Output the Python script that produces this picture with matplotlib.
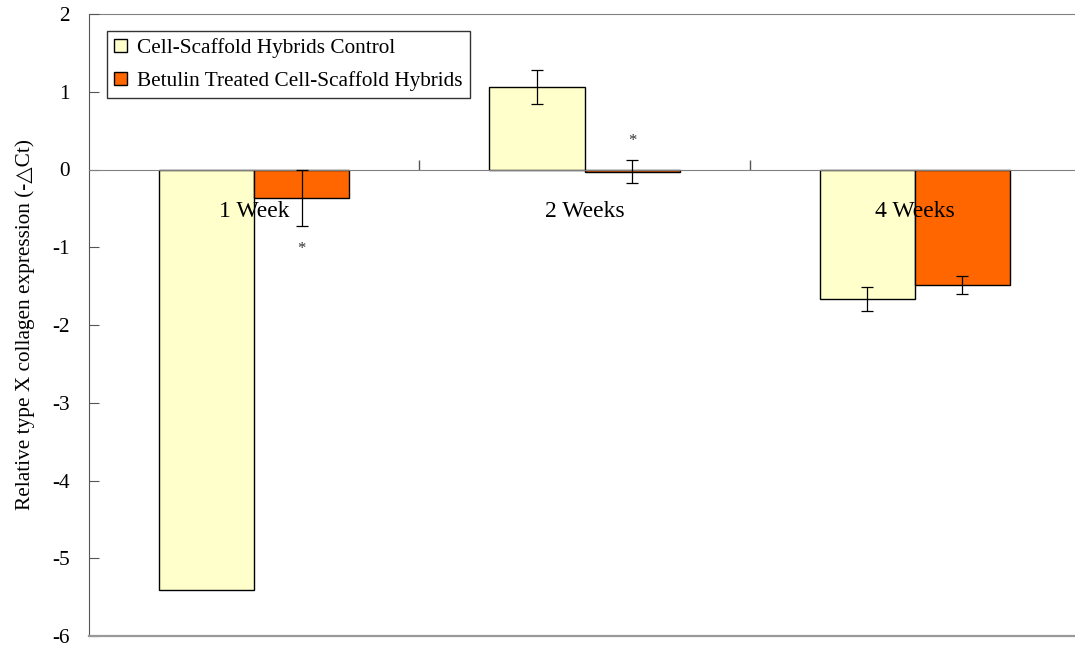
import numpy as np
import matplotlib
matplotlib.use("Agg")
import matplotlib.pyplot as plt

plt.rcParams['font.family'] = ['Liberation Serif', 'DejaVu Serif']

categories = ["1 Week", "2 Weeks", "4 Weeks"]
series_names = ["Cell-Scaffold Hybrids Control",
                "Betulin Treated Cell-Scaffold Hybrids"]
control = [-5.41, 1.06, -1.67]
control_err = [np.nan, 0.22, 0.155]
treated = [-0.37, -0.03, -1.49]
treated_err = [0.36, 0.15, 0.115]
y_ticks = [2, 1, 0, -1, -2, -3, -4, -5, -6]

W, H = 1075, 651
fig = plt.figure(figsize=(W / 100, H / 100), dpi=100)
ax = fig.add_axes([89 / W, 15 / H, (1080 - 89) / W, 622 / H])
ax.set_axisbelow(False)

x = np.arange(len(categories))
bw = 0.288
c_col, t_col = "#FFFFCC", "#FF6600"
fs = 15.3

ax.bar(x - bw / 2, control, bw, color=c_col, edgecolor="black", linewidth=1.0,
       label=series_names[0], zorder=2)
ax.bar(x + bw / 2, treated, bw, color=t_col, edgecolor="black", linewidth=1.0,
       label=series_names[1], zorder=2)
ax.errorbar(x - bw / 2, control, yerr=control_err, fmt="none", ecolor="black",
            elinewidth=0.9, capsize=4.3, capthick=0.9, zorder=4)
ax.errorbar(x + bw / 2, treated, yerr=treated_err, fmt="none", ecolor="black",
            elinewidth=0.9, capsize=4.3, capthick=0.9, zorder=4)

# significance markers next to the treated error bars
ax.text(x[0] + bw / 2, treated[0] - treated_err[0] - 0.29, "*", ha="center",
        va="center", fontsize=12, color="#333333")
ax.text(x[1] + bw / 2, treated[1] + treated_err[1] + 0.25, "*", ha="center",
        va="center", fontsize=12, color="#333333")

ax.set_xlim(-0.5, 2.5)
ax.set_ylim(-6, 2)

# category axis crosses at zero
ax.spines['bottom'].set_position(('data', 0))
ax.spines['bottom'].set_color("#808080")
ax.spines['bottom'].set_zorder(3)
ax.spines['top'].set_color("#808080")
ax.spines['right'].set_visible(False)
ax.spines['left'].set_color("#555555")
ax.axhline(-6, color="#999999", linewidth=1.6, clip_on=False, zorder=3)

ax.set_xticks([0.5, 1.5])
ax.set_xticklabels([])
ax.tick_params(axis="x", which="major", direction="in", length=7,
               color="#555555", width=1)
ax.set_xticks(x, minor=True)
ax.set_xticklabels(categories, minor=True, fontsize=17)
ax.tick_params(axis="x", which="minor", length=0, pad=23)

ax.set_yticks(y_ticks)
ax.set_yticklabels([str(v) for v in y_ticks], fontsize=fs)
ax.tick_params(axis="y", direction="in", length=7, color="#555555", pad=14)

ax.set_ylabel("Relative type X collagen expression (-\u25B3Ct)", fontsize=fs,
              labelpad=12)

leg = ax.legend(loc="upper left", bbox_to_anchor=(107 / W, 1 - 31 / H),
                bbox_transform=fig.transFigure, borderaxespad=0, fontsize=fs,
                frameon=True, fancybox=False, edgecolor="black",
                handlelength=0.6, handleheight=0.6, handletextpad=0.5,
                borderpad=0.33, labelspacing=0.62)
leg.get_frame().set_linewidth(1.0)

fig.savefig("out.png", dpi=100)
